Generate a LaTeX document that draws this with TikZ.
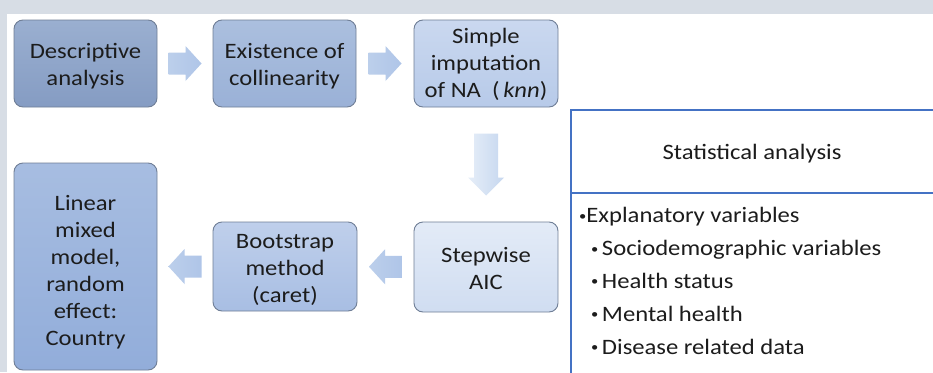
\documentclass[tikz,border=0pt]{standalone}
\usepackage{fontspec}
\setmainfont{Carlito}[FakeStretch=1.12]
\usetikzlibrary{calc}
\definecolor{framegray}{HTML}{D7DDE5}
\definecolor{boxborder}{HTML}{6F7E96}
\definecolor{txt}{HTML}{1C1C1C}
\definecolor{statblue}{HTML}{4472C4}
\definecolor{arrowL}{HTML}{BCCFEB}
\definecolor{arrowR}{HTML}{AFC5E8}
\definecolor{varL}{HTML}{E6EEF8}
\definecolor{varR}{HTML}{C6D7EF}
\definecolor{bAt}{HTML}{9AAFD0}
\definecolor{bAb}{HTML}{859CC3}
\definecolor{bBt}{HTML}{ABBFDE}
\definecolor{bBb}{HTML}{9AB1D7}
\definecolor{bCt}{HTML}{CAD8EF}
\definecolor{bCb}{HTML}{B7CAE9}
\definecolor{bDt}{HTML}{E3EBF7}
\definecolor{bDb}{HTML}{D0DDF1}
\definecolor{bEt}{HTML}{BFCFEB}
\definecolor{bEb}{HTML}{A8BEE3}
\definecolor{bFt}{HTML}{A7BDE1}
\definecolor{bFb}{HTML}{92ADDA}
\newcommand{\mylines}[2][-4pt]{\raisebox{#1}[\height][\depth]{\begin{tabular}{@{}c@{}}#2\end{tabular}}}
\newcommand{\smbul}{\raisebox{2.5pt}{\fontsize{13}{13}\selectfont•}}
\tikzset{
  box/.style={draw=boxborder, line width=0.9pt, rounded corners=9pt,
    text=txt, font=\fontsize{22}{27}\selectfont, inner sep=2pt},
  harrow/.pic={\path[left color=arrowL, right color=arrowR]
     (-16.5,-11) -- (0.5,-11) -- (0.5,-17.5) -- (16.5,0) -- (0.5,17.5) -- (0.5,11) -- (-16.5,11) -- cycle;},
  varrow/.pic={\path[left color=varL, right color=varR]
     (-31,-12) -- (13,-12) -- (13,-18) -- (31,0) -- (13,18) -- (13,12) -- (-31,12) -- cycle;},
}
\begin{document}
\begin{tikzpicture}[x=1pt,y=-1pt]
\useasboundingbox (0,0) rectangle (933,372);
\fill[framegray] (0,0) rectangle (933,372);
\fill[white] (7,14) rectangle (933,372);

% boxes
\node[box, minimum width=143pt, minimum height=87pt, top color=bAt, bottom color=bAb] (b1) at (85.5,63.5) {\mylines[-3pt]{Descriptive\\analysis}};
\node[box, minimum width=143pt, minimum height=87pt, top color=bBt, bottom color=bBb] (b2) at (284.5,63.5) {\mylines[-3pt]{Existence of\\collinearity}};
\node[box, minimum width=144pt, minimum height=87pt, top color=bCt, bottom color=bCb] (b3) at (486,63.5) {\mylines[-2pt]{Simple\\imputation\\of NA\ \ (\,\textit{knn})}};
\node[box, minimum width=144pt, minimum height=90pt, top color=bDt, bottom color=bDb] (b4) at (486,267) {\mylines[-4pt]{Stepwise\\AIC}};
\node[box, minimum width=144pt, minimum height=89pt, top color=bEt, bottom color=bEb] (b5) at (285,266.5) {\mylines[-4pt]{Bootstrap\\method\\(caret)}};
\node[box, minimum width=143pt, minimum height=207pt, top color=bFt, bottom color=bFb] (b6) at (85.5,266.5) {\mylines[-6pt]{Linear\\mixed\\model,\\random\\effect:\\Country}};

% block arrows between boxes
\pic at ($(b1.east)!0.5!(b2.west)$) {harrow};
\pic at ($(b2.east)!0.5!(b3.west)$) {harrow};
\pic[rotate=-90] at ($(b3.south)!0.5!(b4.north)$) {varrow};
\pic[rotate=180] at ($(b4.west)!0.5!(b5.west-|b5.east)$) {harrow};
\pic[rotate=180] at ($(b5.west)!0.5!(b6.east|-b5.west)$) {harrow};

% statistical analysis panel
\coordinate (sTL) at (571,110);
\coordinate (sBR) at (950,390);
\coordinate (sDiv) at (571,193);
\draw[statblue, line width=1.3pt] (sBR|-sTL) -- (sTL) -- (sTL|-sBR);
\draw[statblue, line width=1.3pt] (sDiv) -- (sDiv-|sBR);
\node[text=txt, font=\fontsize{22}{27}\selectfont] (stitle) at (752,154) {Statistical analysis};
\node[text=txt, font=\fontsize{22}{32.8}\selectfont, align=left, anchor=base west, inner sep=0pt] (slist) at (579,354)
 {\smbul Explanatory variables\\
  \hspace*{12pt}\smbul\hspace{3.5pt}Sociodemographic variables\\
  \hspace*{12pt}\smbul\hspace{3.5pt}Health status\\
  \hspace*{12pt}\smbul\hspace{3.5pt}Mental health\\
  \hspace*{12pt}\smbul\hspace{3.5pt}Disease related data};
\end{tikzpicture}
\end{document}
